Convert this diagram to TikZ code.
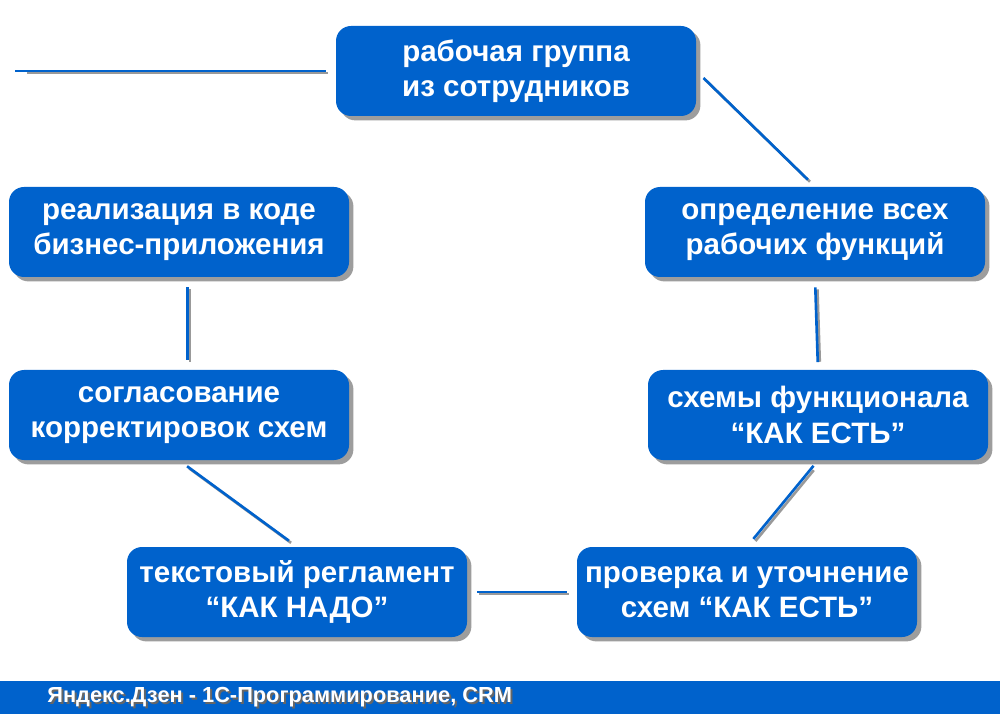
\documentclass[tikz,border=0pt]{standalone}
\usepackage{fontspec}
\setmainfont{Liberation Sans}
\usetikzlibrary{positioning, shadows}

\definecolor{boxblue}{RGB}{0,98,204}

\begin{document}
\begin{tikzpicture}[
    stage/.style={rounded corners=0.3cm, fill=boxblue, text=white,
      minimum width=6.8cm, minimum height=1.8cm, align=center,
      font=\fontsize{16.8}{20}\selectfont\bfseries,
      drop shadow={shadow xshift=2.5pt, shadow yshift=-2.5pt, fill=black!55, opacity=0.7}},
    link/.style={draw=boxblue, line width=1.5pt, shorten <=0.2cm, shorten >=0.2cm,
      preaction={draw=black!40, line width=1.5pt, shorten <=0.2cm, shorten >=0.2cm,
        transform canvas={xshift=1.2pt, yshift=-1.2pt}}},
    credit/.style={anchor=west, inner sep=0pt, font=\fontsize{12.4}{14}\selectfont\bfseries}
  ]
  \useasboundingbox (0,0) rectangle (20,14.28);

  % Stages of the cycle
  \node[stage, minimum width=7.2cm] (group) at (10.32,12.86) {рабочая группа\\из сотрудников};
  \node[stage] (funcs) at (16.3,9.64) {определение всех\\рабочих функций};
  \node[stage] (asis) at (16.36,5.98) {схемы функционала\\“КАК ЕСТЬ”};
  \node[stage] (check) at (14.94,2.44) {проверка и уточнение\\схем “КАК ЕСТЬ”};
  \node[stage] (tobe) at (5.94,2.44) {текстовый регламент\\“КАК НАДО”};
  \node[stage] (agree) at (3.58,5.98) {согласование\\корректировок схем};
  \node[stage] (impl) at (3.58,9.64) {реализация в коде\\бизнес-приложения};

  % Connectors
  \coordinate (lend) at (0.3,12.86);
  \draw[link, shorten <=0pt] (lend) -- (group.west);
  \draw[link] (group.east) -- (funcs.north);
  \draw[link, shorten >=0.15cm] (funcs.south) -- (asis.north);
  \draw[link, shorten <=0.14cm] (asis.south) -- (check.north);
  \draw[link] (check.west) -- (tobe.east);
  \draw[link] (tobe.north) -- (agree.south);
  \draw[link] ([xshift=5pt]agree.north) -- ([xshift=5pt]impl.south);

  % Footer bar
  \fill[boxblue] (0,0) rectangle (20,0.66);
  \node[credit, text=black!60] (credshadow) at (0.98,0.30) {Яндекс.Дзен - 1С-Программирование, CRM};
  \node[credit, text=white] (creditline) at (0.94,0.34) {Яндекс.Дзен - 1С-Программирование, CRM};
\end{tikzpicture}
\end{document}
